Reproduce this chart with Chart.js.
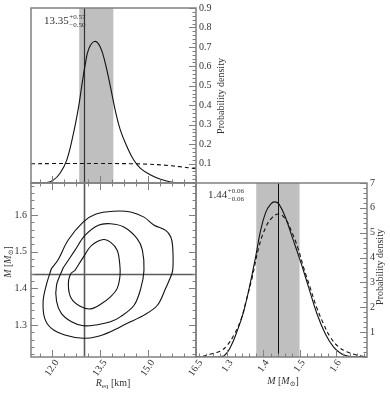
<!DOCTYPE html>
<html>
<head>
<meta charset="utf-8">
<script src="https://cdn.jsdelivr.net/npm/chart.js@4.4.1/dist/chart.umd.min.js"></script>
<style>
  body { margin: 0; background: #fff; }
  #wrap { position: relative; width: 390px; height: 394px; }
  #wrap canvas { position: absolute; left: 0; top: 0; }
</style>
</head>
<body>
<div id="wrap">
  <canvas id="radius-panel" width="390" height="394"></canvas>
  <canvas id="joint-panel" width="390" height="394"></canvas>
  <canvas id="mass-panel" width="390" height="394"></canvas>
</div>
<script>
// tick values
const radiusTicks = [12.0, 13.5, 15.0, 16.5];
const massTicks = [1.3, 1.4, 1.5, 1.6];
const radiusDensityTicks = [0.1, 0.2, 0.3, 0.4, 0.5, 0.6, 0.7, 0.8, 0.9];
const massDensityTicks = [1, 2, 3, 4, 5, 6, 7];

// summary values
const radiusTruth = 13.0;
const radiusMedian = '13.35', radiusPlus = '+0.57', radiusMinus = '\u22120.50';
const radiusBand = [12.85, 13.92];
const massTruth = 1.44;
const massMedian = '1.44', massPlus = '+0.06', massMinus = '\u22120.06';
const massBand = [1.38, 1.50];

// 1D posterior / prior of R_eq
const radiusKm = [11.34, 11.84, 12.04, 12.25, 12.46, 12.67, 12.83, 12.94, 13.04, 13.15, 13.33, 13.51,
  13.67, 13.83, 13.98, 14.14, 14.35, 14.56, 14.77, 15.09, 15.40, 15.72, 16.0, 16.51];
const radiusPdf = [0, 0.002, 0.015, 0.05, 0.118, 0.255, 0.39, 0.51, 0.61, 0.69, 0.728, 0.70,
  0.614, 0.494, 0.374, 0.272, 0.186, 0.118, 0.075, 0.041, 0.019, 0.005, 0.001, 0];
const radiusPriorKm = [11.34, 12.0, 12.5, 13.0, 13.5, 14.0, 14.5, 15.0, 15.5, 16.0, 16.51];
const radiusPriorPdf = [0.099, 0.1, 0.1, 0.1, 0.1, 0.1, 0.099, 0.097, 0.092, 0.084, 0.073];

// 1D posterior / prior of M
const massSolar = [1.213, 1.27, 1.291, 1.309, 1.328, 1.346, 1.365, 1.378, 1.392, 1.406, 1.420, 1.431,
  1.443, 1.461, 1.480, 1.502, 1.525, 1.548, 1.571, 1.594, 1.617, 1.640, 1.687];
const massPdf = [0, 0, 0.05, 0.41, 1.08, 1.88, 3.08, 4.01, 5.08, 5.81, 6.15, 6.24,
  6.15, 5.61, 4.81, 3.88, 2.81, 1.75, 0.95, 0.41, 0.12, 0.02, 0];
const massPriorSolar = [1.213, 1.227, 1.254, 1.282, 1.300, 1.318, 1.337, 1.351, 1.369, 1.387, 1.406, 1.424,
  1.443, 1.461, 1.477, 1.495, 1.511, 1.529, 1.547, 1.566, 1.585, 1.608, 1.631, 1.658, 1.681, 1.687];
const massPriorPdf = [0, 0.01, 0.12, 0.25, 0.48, 0.88, 1.48, 2.21, 3.21, 4.41, 5.21, 5.61,
  5.75, 5.55, 5.08, 4.41, 3.61, 2.81, 2.01, 1.35, 0.81, 0.41, 0.21, 0.08, 0.01, 0];

// 2D credible contours (R_eq, M)
const outerR = [11.98, 12.19, 12.50, 12.98, 13.36, 13.92, 14.46, 14.88, 15.20, 15.56, 15.72, 15.78,
  15.78, 15.67, 15.56, 15.30, 14.88, 14.36, 13.83, 13.42, 12.98, 12.40, 11.98, 11.77, 11.72, 11.82];
const outerM = [1.454, 1.478, 1.531, 1.581, 1.602, 1.610, 1.608, 1.594, 1.572, 1.558, 1.540, 1.513,
  1.449, 1.422, 1.400, 1.354, 1.327, 1.305, 1.282, 1.269, 1.264, 1.273, 1.291, 1.318, 1.365, 1.409];
const middleR = [12.35, 12.72, 13.03, 13.45, 13.83, 14.25, 14.67, 14.83, 14.88, 14.78, 14.57, 14.15,
  13.83, 13.42, 12.98, 12.61, 12.29, 12.14, 12.14];
const middleM = [1.456, 1.504, 1.544, 1.572, 1.576, 1.567, 1.535, 1.504, 1.449, 1.400, 1.354, 1.323,
  1.309, 1.301, 1.298, 1.309, 1.332, 1.365, 1.409];
const innerR = [12.72, 12.98, 13.24, 13.61, 13.83, 14.04, 14.12, 14.13, 14.04, 13.83, 13.51, 13.20,
  12.88, 12.60, 12.51, 12.57];
const innerM = [1.449, 1.485, 1.517, 1.533, 1.526, 1.504, 1.467, 1.435, 1.400, 1.377, 1.356, 1.344,
  1.351, 1.373, 1.408, 1.438];

const radiusRange = [11.34, 16.51];
const massRange = [1.213, 1.687];

const FONT = '"Liberation Serif", "DejaVu Serif", serif';
const TEXT = '#333';
const AXIS = '#808080';
const BAND = '#bfbfbf';

function pts(xs, ys, close) {
  const out = xs.map((x, i) => ({ x: x, y: ys[i] }));
  if (close) out.push(out[0]);
  return out;
}

function stepValues(scale, step) {
  const out = [];
  for (let k = Math.ceil(scale.min / step - 1e-6); k * step <= scale.max + 1e-9; k++) out.push(k * step);
  return out;
}

// rich text: list of [text, style] where style has it (italic), sub
function richText(ctx, parts, x, y, rot, size) {
  ctx.save();
  ctx.translate(x, y);
  ctx.rotate(rot);
  ctx.fillStyle = TEXT;
  ctx.textAlign = 'left';
  ctx.textBaseline = 'middle';
  const fonts = parts.map(p => (p[1] && p[1].it ? 'italic ' : '') + ((p[1] && p[1].sub) ? size * 0.7 : size) + 'px ' + FONT);
  let total = 0;
  const widths = parts.map((p, i) => { ctx.font = fonts[i]; const w = ctx.measureText(p[0]).width; total += w; return w; });
  let cx = -total / 2;
  parts.forEach((p, i) => {
    ctx.font = fonts[i];
    ctx.fillText(p[0], cx, (p[1] && p[1].sub) ? size * 0.3 : 0);
    cx += widths[i];
  });
  ctx.restore();
}

function quantileLabel(ctx, x, y, median, plus, minus) {
  ctx.save();
  ctx.fillStyle = TEXT;
  ctx.textBaseline = 'alphabetic';
  ctx.textAlign = 'left';
  ctx.font = '11px ' + FONT;
  ctx.fillText(median, x, y);
  const w = ctx.measureText(median).width;
  ctx.font = '7px ' + FONT;
  ctx.fillText(plus, x + w + 0.5, y - 5.5);
  ctx.fillText(minus, x + w + 0.5, y + 2.5);
  ctx.restore();
}

// inward ticks + frame drawn from the chart's scales
const frame = {
  id: 'frame',
  beforeDatasetsDraw(chart, args, o) {
    const ctx = chart.ctx, a = chart.chartArea;
    const xs = chart.scales.x, ys = chart.scales.y;
    ctx.save();
    if (o.band) {
      const x0 = xs.getPixelForValue(o.band[0]), x1 = xs.getPixelForValue(o.band[1]);
      ctx.fillStyle = BAND;
      ctx.fillRect(x0, a.top, x1 - x0, a.bottom - a.top);
    }
    if (o.vline != null) {
      const x = Math.round(xs.getPixelForValue(o.vline)) + 0.5;
      ctx.strokeStyle = o.lineColor || '#222';
      ctx.lineWidth = o.lineWidth || 1;
      ctx.beginPath(); ctx.moveTo(x, a.top); ctx.lineTo(x, a.bottom); ctx.stroke();
    }
    if (o.hline != null) {
      const y = Math.round(ys.getPixelForValue(o.hline)) + 0.5;
      ctx.strokeStyle = o.lineColor || '#222';
      ctx.lineWidth = o.lineWidth || 1;
      ctx.beginPath(); ctx.moveTo(a.left, y); ctx.lineTo(a.right, y); ctx.stroke();
    }
    ctx.restore();
  },
  afterDraw(chart, args, o) {
    const ctx = chart.ctx, a = chart.chartArea;
    const xs = chart.scales.x, ys = chart.scales.y;
    ctx.save();
    ctx.strokeStyle = AXIS;
    ctx.lineWidth = 1;
    const isMajor = (v, list) => list.some(t => Math.abs(t - v) < 1e-6);
    (o.xSides || []).forEach(side => {
      stepValues(xs, o.xMinor).forEach(v => {
        const x = Math.round(xs.getPixelForValue(v)) + 0.5;
        const len = isMajor(v, o.xMajor) ? 7 : 3.5;
        ctx.beginPath();
        if (side === 'bottom') { ctx.moveTo(x, a.bottom); ctx.lineTo(x, a.bottom - len); }
        else { ctx.moveTo(x, a.top); ctx.lineTo(x, a.top + len); }
        ctx.stroke();
      });
    });
    (o.ySides || []).forEach(side => {
      stepValues(ys, o.yMinor).forEach(v => {
        const y = Math.round(ys.getPixelForValue(v)) + 0.5;
        const len = isMajor(v, o.yMajor) ? 7 : 3.5;
        ctx.beginPath();
        if (side === 'left') { ctx.moveTo(a.left, y); ctx.lineTo(a.left + len, y); }
        else { ctx.moveTo(a.right, y); ctx.lineTo(a.right - len, y); }
        ctx.stroke();
      });
    });
    ctx.lineWidth = 1.5;
    ctx.strokeRect(a.left, a.top, a.right - a.left, a.bottom - a.top);

    ctx.fillStyle = TEXT;
    ctx.font = '10px ' + FONT;
    if (o.xLabels) {
      o.xMajor.forEach(v => {
        const x = xs.getPixelForValue(v);
        ctx.save();
        ctx.translate(x, a.bottom + o.xLabelOffset);
        ctx.rotate(-55 * Math.PI / 180);
        ctx.textAlign = 'center';
        ctx.textBaseline = 'middle';
        ctx.fillText(v.toFixed(o.xDigits), 0, 0);
        ctx.restore();
      });
    }
    if (o.yLabels) {
      o.yMajor.forEach(v => {
        const y = ys.getPixelForValue(v);
        ctx.textBaseline = 'middle';
        if (o.yLabels === 'left') { ctx.textAlign = 'right'; ctx.fillText(v.toFixed(o.yDigits), a.left - 4, y); }
        else { ctx.textAlign = 'left'; ctx.fillText(v.toFixed(o.yDigits), a.right + 3, y); }
      });
    }
    if (o.extra) o.extra(ctx, a);
    ctx.restore();
  }
};

function options(xRange, yRange, pad, frameOpts) {
  return {
    responsive: false,
    animation: false,
    layout: { padding: pad },
    plugins: { legend: { display: false }, tooltip: { enabled: false }, frame: frameOpts },
    scales: {
      x: { type: 'linear', min: xRange[0], max: xRange[1], display: false },
      y: { type: 'linear', min: yRange[0], max: yRange[1], display: false },
    },
    elements: { point: { radius: 0 } },
  };
}

function curve(data, dashed, tension) {
  return {
    data: data, showLine: true, borderColor: '#111', borderWidth: 1.1,
    borderDash: dashed ? [4, 3] : [], tension: tension == null ? 0.4 : tension, fill: false,
  };
}

const W = 390, H = 394;
const xSplit = 196, ySplit = 183;

// top-left: R_eq marginal
new Chart(document.getElementById('radius-panel'), {
  type: 'scatter',
  data: { datasets: [
    curve(pts(radiusKm, radiusPdf)),
    curve(pts(radiusPriorKm, radiusPriorPdf), true),
  ] },
  options: options(radiusRange, [0, 0.9], { left: 31, top: 8, right: W - xSplit, bottom: H - ySplit }, {
    band: radiusBand, vline: radiusTruth, lineColor: '#333', lineWidth: 1.2,
    xSides: ['bottom'], xMajor: radiusTicks, xMinor: 0.375,
    ySides: ['right'], yMajor: radiusDensityTicks, yMinor: 0.02, yLabels: 'right', yDigits: 1,
    extra(ctx, a) {
      quantileLabel(ctx, 44, 24, radiusMedian, radiusPlus, radiusMinus);
      richText(ctx, [['Probability density']], 221, 96, -Math.PI / 2, 10);
    }
  }),
  plugins: [frame]
});

// bottom-left: joint contours
new Chart(document.getElementById('joint-panel'), {
  type: 'scatter',
  data: { datasets: [
    curve(pts(outerR, outerM, true), false, 0.35),
    curve(pts(middleR, middleM, true), false, 0.35),
    curve(pts(innerR, innerM, true), false, 0.35),
  ] },
  options: options(radiusRange, massRange, { left: 31, top: ySplit, right: W - xSplit, bottom: H - 357 }, {
    vline: radiusTruth, hline: massTruth, lineColor: '#5a5a5a', lineWidth: 1.6,
    xSides: ['bottom', 'top'], xMajor: radiusTicks, xMinor: 0.375, xLabels: true, xDigits: 1, xLabelOffset: 11,
    ySides: ['left', 'right'], yMajor: massTicks, yMinor: 0.02, yLabels: 'left', yDigits: 1,
    extra(ctx, a) {
      richText(ctx, [['R', { it: true }], ['eq', { sub: true }], [' [km]']], 113, 383, 0, 10);
      richText(ctx, [['M', { it: true }], [' ['], ['M', { it: true }], ['\u2299', { sub: true }], [']']], 8, 262, -Math.PI / 2, 10);
    }
  }),
  plugins: [frame]
});

// bottom-right: M marginal
new Chart(document.getElementById('mass-panel'), {
  type: 'scatter',
  data: { datasets: [
    curve(pts(massSolar, massPdf)),
    curve(pts(massPriorSolar, massPriorPdf), true),
  ] },
  options: options(massRange, [0, 7], { left: xSplit, top: ySplit, right: W - 367, bottom: H - 357 }, {
    band: massBand, vline: massTruth, lineColor: '#111', lineWidth: 1,
    xSides: ['bottom'], xMajor: massTicks, xMinor: 0.02, xLabels: true, xDigits: 1, xLabelOffset: 9,
    ySides: ['right'], yMajor: massDensityTicks, yMinor: 0.2, yLabels: 'right', yDigits: 0,
    extra(ctx, a) {
      quantileLabel(ctx, 208, 198, massMedian, massPlus, massMinus);
      richText(ctx, [['Probability density']], 380, 267, -Math.PI / 2, 10);
      richText(ctx, [['M', { it: true }], [' ['], ['M', { it: true }], ['\u2299', { sub: true }], [']']], 283, 381, 0, 10);
    }
  }),
  plugins: [frame]
});
</script>
</body>
</html>
